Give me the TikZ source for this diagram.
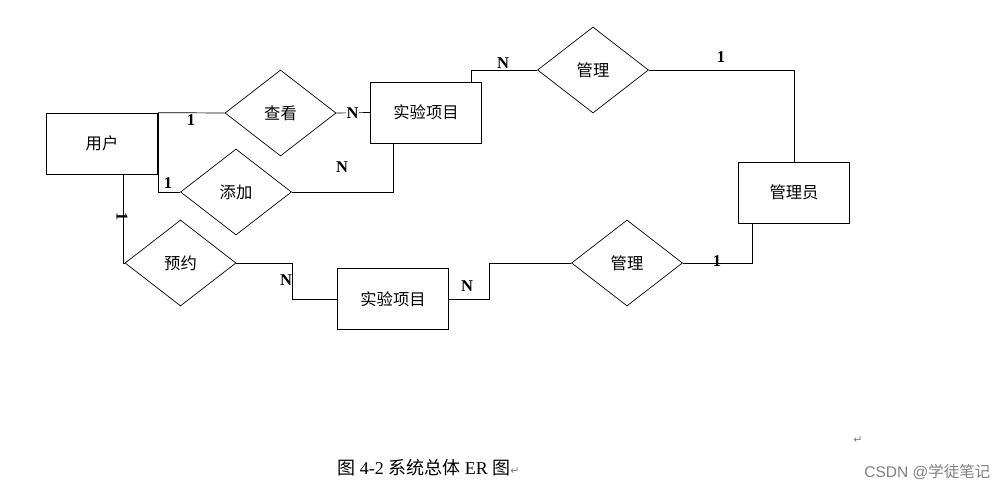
\documentclass[tikz,border=0pt]{standalone}
\usepackage{fontspec}
\setmainfont{Liberation Serif}
\newfontfamily\cjk{Noto Sans CJK SC}
\newfontfamily\dv{DejaVu Sans}
\newfontfamily\lsans{Liberation Sans}
\usetikzlibrary{shapes.geometric}
\begin{document}
\begin{tikzpicture}[x=1pt,y=-1pt,
  every path/.style={line width=0.7pt},
  entity/.style={draw,rectangle,minimum width=111pt,minimum height=61pt,inner sep=0pt,font=\cjk\fontsize{16.3}{18}\selectfont},
  rel/.style={draw,diamond,minimum width=111pt,minimum height=86pt,inner sep=0pt,aspect=1.29,font=\cjk\fontsize{16.3}{18}\selectfont},
  lab/.style={font=\bfseries\fontsize{16.5}{18}\selectfont,inner sep=1pt}]
\useasboundingbox (0,0) rectangle (1005,489);
% entities
\node[entity] (user) at (102,143.5) {用户};
\node[entity] (exp1) at (426,112.5) {实验项目};
\node[entity] (exp2) at (393,299) {实验项目};
\node[entity] (admin) at (794,192.5) {管理员};
% relationships
\node[rel] (chakan) at (280.5,113) {查看};
\node[rel] (tianjia) at (236,192) {添加};
\node[rel] (yuyue) at (180.5,263) {预约};
\node[rel] (guanli1) at (593,70) {管理};
\node[rel] (guanli2) at (627,263) {管理};
% connectors
\draw (user.north east) -- (chakan.west);
\draw (user.north east) |- (tianjia.west);
\draw (tianjia.east) -| ([xshift=-33pt]exp1.south);
\draw (chakan.east) -- (exp1.west);
\draw ([xshift=45pt]exp1.north) |- (guanli1.west);
\draw (guanli1.east) -| (admin.north);
\draw ([xshift=-42pt]admin.south) |- (guanli2.east);
\coordinate (c1) at (489,263);
\draw (guanli2.west) -- (c1) |- (exp2.east);
\coordinate (c2) at (292,263);
\draw (yuyue.east) -- (c2) |- (exp2.west);
\draw ([xshift=21pt]user.south) |- (yuyue.west);
% cardinality labels
\node[lab] (l1) at (191,120) {1};
\node[lab] (l2) at (168,183) {1};
\node[lab,rotate=-90] (l3) at (122,217) {1};
\node[lab] (l4) at (721,57) {1};
\node[lab] (l5) at (717,261) {1};
\node[lab,fill=white] (n1) at (352.5,113) {N};
\node[lab] (n2) at (342,167) {N};
\node[lab] (n3) at (503,63) {N};
\node[lab] (n4) at (286,280) {N};
\node[lab,fill=white] (n5) at (467,286) {N};
% caption
\node[anchor=west,inner sep=0pt,font=\fontsize{18}{20}\selectfont] (cap) at (337,468)
  {{\cjk 图} 4-2 {\cjk 系统总体} ER {\cjk 图}{\dv\fontsize{11}{12}\selectfont\color{gray}↵}};
\node[inner sep=0pt,font=\dv\fontsize{11}{12}\selectfont,text=gray] (ret) at (858,440) {↵};
\node[anchor=west,inner sep=0pt,text=black!50,font=\fontsize{15.5}{17}\selectfont] (wm) at (864,472)
  {{\lsans CSDN @}{\cjk 学徒笔记}};
\end{tikzpicture}
\end{document}
